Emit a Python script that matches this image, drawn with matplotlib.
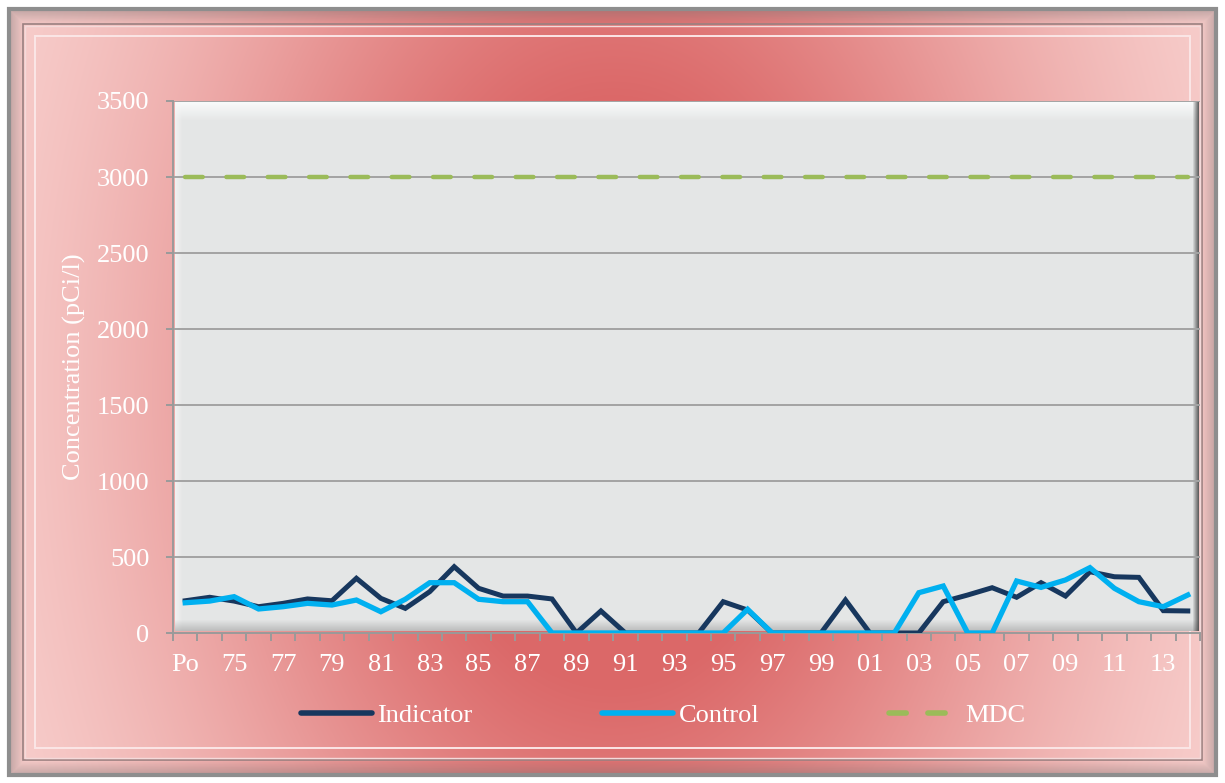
import numpy as np
import matplotlib.pyplot as plt
from matplotlib.patches import Rectangle
from matplotlib.lines import Line2D

plt.rcParams['font.family'] = ['Liberation Serif', 'DejaVu Serif']

# x categories: "Po" (pre-operational) then sampling years 1974-2014
categories = ['Po'] + ['%02d' % (y % 100) for y in range(1974, 2015)]

indicator = [212, 235, 210, 173, 195, 224, 212, 360, 228, 162, 272, 436, 294, 243,
             243, 224, 0, 145, 0, 0, 0, 0, 206, 151, 0, 0, 0, 217, 0, 0,
             0, 206, 250, 298, 235, 331, 243, 403, 370, 366, 147, 145]
control = [199, 210, 239, 158, 173, 195, 184, 217, 140, 222, 331, 331, 222, 206,
           206, 0, 0, 0, 0, 0, 0, 0, 0, 156, 0, 0, 0, 0, 0, 0,
           265, 309, 0, 0, 342, 300, 349, 430, 294, 206, 173, 250]
mdc = [3000] * len(categories)

yticks = [0, 500, 1000, 1500, 2000, 2500, 3000, 3500]

W, H = 1225, 783
fig = plt.figure(figsize=(W / 100, H / 100), dpi=100)
fig.patch.set_facecolor('white')

# background layer in pixel coordinates
bg = fig.add_axes([0, 0, 1, 1], zorder=0)
bg.set_xlim(0, W)
bg.set_ylim(H, 0)
bg.axis('off')

# reddish fill, darkest in the middle, pale towards the edges and corners
yy, xx = np.mgrid[0:H, 0:W]
u = xx / W
v = yy / H
t = np.exp(-((u - 0.5) / 0.38) ** 2 - ((v - 0.5) / 0.9) ** 2)
t = np.clip(t * 1.2, 0, 1)
light = np.array([0.99, 0.88, 0.87])
dark = np.array([0.86, 0.41, 0.41])
img = light + (dark - light) * t[..., None]
bg.imshow(img, extent=[9, W - 9, H - 8, 9], aspect='auto', zorder=0)

# bevelled frame
for k in range(14):
    a = 0.30 * (1 - k / 14)
    bg.add_patch(Rectangle((10 + k, 10 + k), W - 20 - 2 * k, H - 19 - 2 * k,
                           fill=False, ec='#7a7070', lw=1.0, alpha=a, zorder=2))
bg.add_patch(Rectangle((9, 9), W - 18, H - 17, fill=False, ec='#8e8e8e', lw=3, zorder=2))
bg.add_patch(Rectangle((23, 24), W - 46, H - 47, fill=False, ec='#9a8080', lw=1.2, zorder=3))
bg.add_patch(Rectangle((25, 26), W - 50, H - 51, fill=False, ec='#f4dada', lw=1.0, zorder=3))
bg.add_patch(Rectangle((35, 36), W - 70, H - 71, fill=False, ec='#fbe6e6', lw=1.4, zorder=3))

# plot panel with soft bevel
px0, px1, py0, py1 = 175, 1199, 101, 631
pw, ph = px1 - px0, py1 - py0
panel = np.ones((ph, pw, 3)) * np.array([0.898, 0.904, 0.904])
top = np.linspace(1, 0, 20)[:, None, None]
panel[:20] = panel[:20] * (1 - top * 0.95) + np.array([0.985, 0.99, 0.99]) * top * 0.95
left = np.linspace(1, 0, 8)[None, :, None]
panel[:, :8] = panel[:, :8] * (1 - left * 0.6) + 0.97 * left * 0.6
bottom = np.linspace(0, 1, 12)[:, None, None]
panel[-12:] = panel[-12:] * (1 - bottom * 0.45) + 0.55 * bottom * 0.45
right = np.linspace(0, 1, 7)[None, :, None]
panel[:, -7:] = panel[:, -7:] * (1 - right * 0.8) + 0.25 * right * 0.8
bg.imshow(panel, extent=[px0, px1, py1, py0], aspect='auto', zorder=4)

# data axes
ax = fig.add_axes([173 / W, 1 - 633 / H, (1200 - 173) / W, (633 - 101) / H], zorder=1)
ax.patch.set_alpha(0)
x = np.arange(len(categories))

for yv in yticks[1:]:
    ax.axhline(yv, color='#a3a3a3', lw=1.4, zorder=1)

ax.plot(x, indicator, color='#17375e', lw=3.6, solid_joinstyle='miter', zorder=3, label='Indicator')
ax.plot(x, control, color='#00b0f0', lw=3.8, solid_joinstyle='miter', zorder=4, label='Control')
ax.plot(x, mdc, color='#9bbb59', lw=3.2, dashes=(4.0, 5.3), dash_capstyle='round',
        zorder=2, label='MDC')

ax.set_xlim(-0.5, len(categories) - 0.5)
ax.set_ylim(0, 3500)
ax.set_yticks(yticks)
ax.set_xticks(x[::2])
ax.set_xticklabels(categories[::2])
ax.set_xticks(np.arange(-0.5, len(categories)), minor=True)

for s in ['top', 'right']:
    ax.spines[s].set_visible(False)
for s in ['left', 'bottom']:
    ax.spines[s].set_color('#9a9a9a')
    ax.spines[s].set_linewidth(1.4)

ax.tick_params(axis='y', length=5, width=1.4, color='#9a9a9a', labelcolor='white',
               labelsize=19, pad=12)
ax.tick_params(axis='x', which='major', length=0, labelcolor='white', labelsize=19, pad=15)
ax.tick_params(axis='x', which='minor', length=6, width=1.4, color='#9a9a9a')

ax.set_ylabel('Concentration (pCi/l)', color='white', fontsize=19)
ax.yaxis.set_label_coords(-0.085, 0.5)

handles = [Line2D([], [], color='#17375e', lw=4, solid_capstyle='round'),
           Line2D([], [], color='#00b0f0', lw=4, solid_capstyle='round'),
           Line2D([], [], color='#9bbb59', lw=4, dashes=(3.1, 3.9), dash_capstyle='round')]
leg = fig.legend(handles, ['Indicator', 'Control', 'MDC'], loc='center',
                 bbox_to_anchor=(663 / W, 1 - 715 / H), ncol=3, frameon=False,
                 fontsize=19, handlelength=2.7, handletextpad=0.2, columnspacing=4.9)
for txt in leg.get_texts():
    txt.set_color('white')

fig.savefig('out.png', dpi=100)
